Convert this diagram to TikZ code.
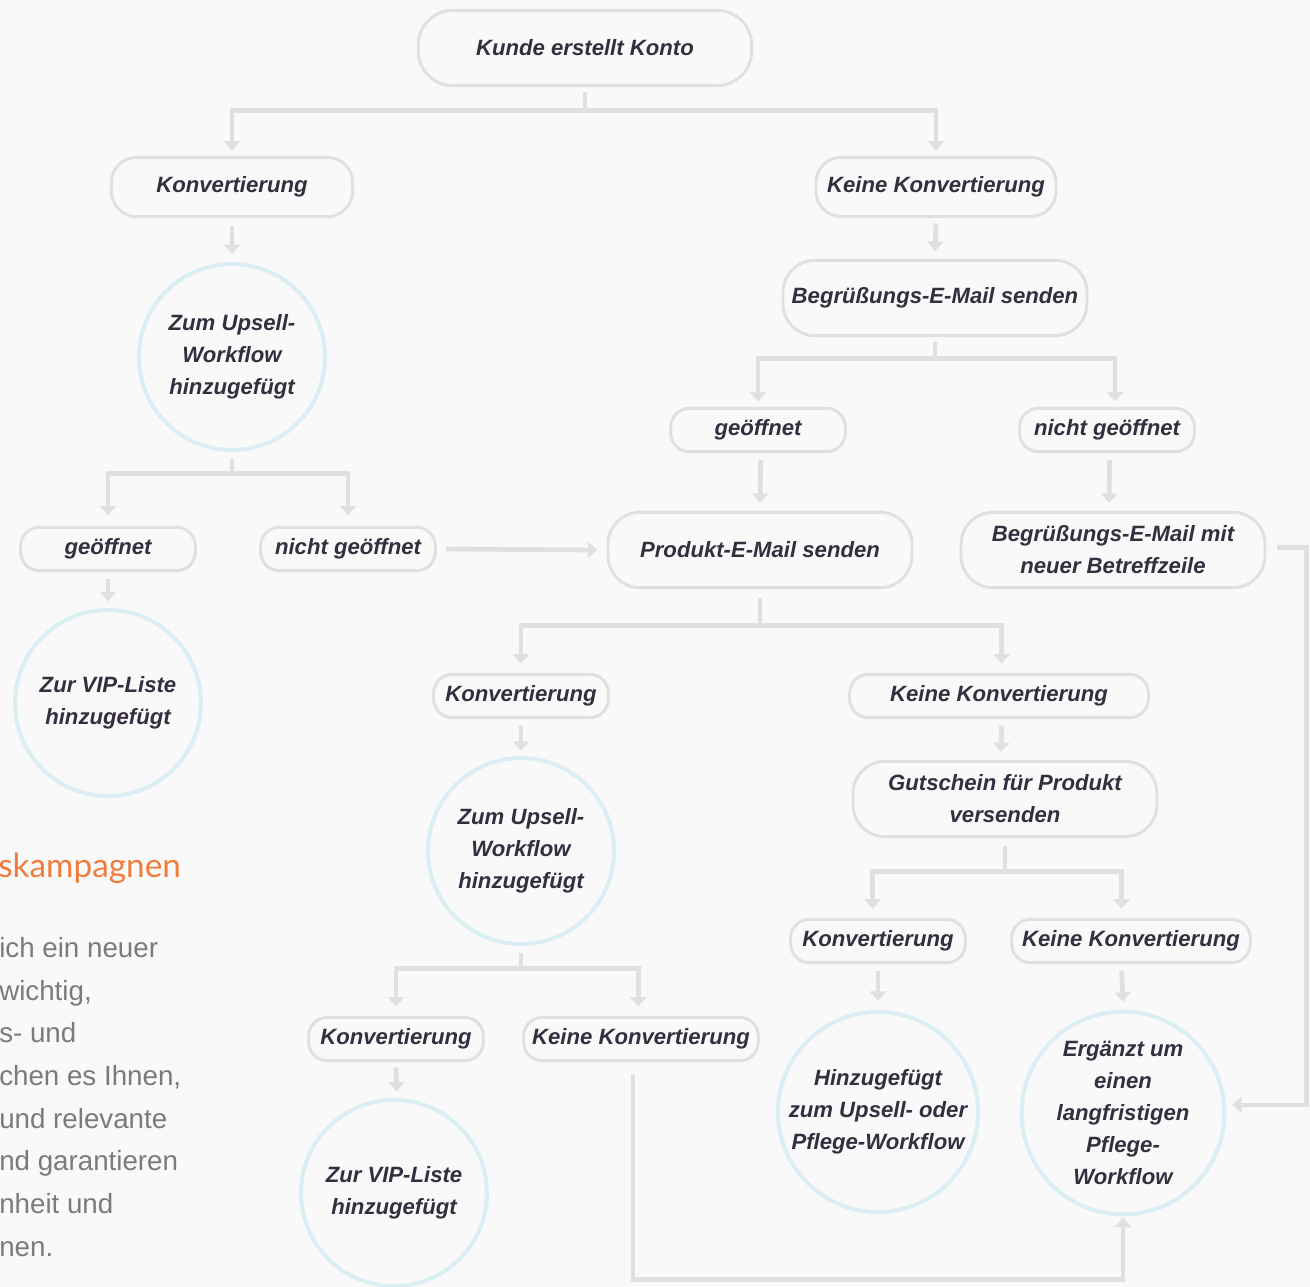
\documentclass[tikz,border=0pt]{standalone}
\usepackage{fontspec}
\setmainfont{Liberation Sans}
\newfontfamily\boxfont{Liberation Sans}
\newfontfamily\headfont{Lato}
\usetikzlibrary{arrows.meta}
\definecolor{bgcol}{HTML}{F9F9F9}
\definecolor{linecol}{HTML}{E0E0E0}
\definecolor{ringcol}{HTML}{DAEEF4}
\definecolor{textcol}{HTML}{352E3F}
\definecolor{bodycol}{HTML}{7A7A80}
\definecolor{headcol}{HTML}{F07C3C}
\tikzset{
  stepbox/.style={draw=linecol, line width=2.2pt, fill=bgcol, rounded corners=14pt,
    minimum height=32.5pt, inner sep=0pt, align=center, text=textcol,
    font=\boxfont\bfseries\itshape\fontsize{16.6}{24}\selectfont},
  midbox/.style={stepbox, minimum height=44.5pt, rounded corners=19pt},
  tallbox/.style={stepbox, minimum height=56.5pt, rounded corners=24pt},
  ring/.style={circle, draw=ringcol, line width=3pt, fill=bgcol, minimum size=139.5pt,
    inner sep=0pt, align=center, text=textcol,
    font=\boxfont\bfseries\itshape\fontsize{16.6}{24}\selectfont},
  bigring/.style={ring, minimum size=150pt},
  conn/.style={draw=linecol, line width=3.6pt, -{Triangle[width=12pt,length=7pt]}},
}
\begin{document}
\begin{tikzpicture}[x=0.75pt, y=-0.75pt]
  \fill[bgcol] (0,0) rectangle (1310,1287);
  \useasboundingbox (0,0) rectangle (1310,1287);
  % text on the left, cut by the page edge
  \node[anchor=base west, inner sep=0pt, text=headcol, font=\headfont\fontsize{25}{30}\selectfont] (head) at (-2,877) {skampagnen};
  \foreach \yy/\txt in {957/ich ein neuer, 1000/{wichtig,}, 1042/s- und, 1085/{chen es Ihnen,},
      1128/und relevante, 1170/nd garantieren, 1213/nheit und, 1256/nen.}
    \node[anchor=base west, inner sep=0pt, text=bodycol, font=\fontsize{20.8}{32}\selectfont] at (-1,\yy) {\txt};
  % nodes
  \node[tallbox, minimum width=250pt, rounded corners=26pt] (kunde) at (585,48) {Kunde erstellt Konto};
  \node[midbox, minimum width=181pt] (konvA) at (232,187) {Konvertierung};
  \node[midbox, minimum width=180pt] (keineA) at (936,187) {Keine Konvertierung};
  \node[ring] (upsellA) at (232,357) {Zum Upsell-\\Workflow\\hinzugefügt};
  \node[tallbox, minimum width=228pt] (begr) at (935,298) {Begrüßungs-E-Mail senden};
  \node[stepbox, minimum width=131pt] (offenB) at (758,430) {geöffnet};
  \node[stepbox, minimum width=131pt] (zuB) at (1107,430) {nicht geöffnet};
  \node[tallbox, minimum width=228pt] (produkt) at (760,550) {Produkt-E-Mail senden};
  \node[tallbox, minimum width=228pt] (begrneu) at (1113,550) {Begrüßungs-E-Mail mit\\neuer Betreffzeile};
  \node[stepbox, minimum width=131pt] (offenA) at (108,549) {geöffnet};
  \node[stepbox, minimum width=131pt] (zuA) at (348,549) {nicht geöffnet};
  \node[ring] (vipA) at (108,703) {Zur VIP-Liste\\hinzugefügt};
  \node[stepbox, minimum width=131pt] (konvC) at (521,696) {Konvertierung};
  \node[stepbox, minimum width=224pt] (keineC) at (999,696) {Keine Konvertierung};
  \node[ring] (upsellC) at (521,851) {Zum Upsell-\\Workflow\\hinzugefügt};
  \node[tallbox, minimum width=228pt] (gutschein) at (1005,799) {Gutschein für Produkt\\versenden};
  \node[stepbox, minimum width=131pt] (konvD) at (396,1039) {Konvertierung};
  \node[stepbox, minimum width=176pt] (keineD) at (641,1039) {Keine Konvertierung};
  \node[ring] (vipD) at (394,1193) {Zur VIP-Liste\\hinzugefügt};
  \node[stepbox, minimum width=131pt] (konvE) at (878,941) {Konvertierung};
  \node[stepbox, minimum width=179pt] (keineE) at (1131,941) {Keine Konvertierung};
  \node[bigring] (pflege) at (878,1112) {Hinzugefügt\\zum Upsell- oder\\Pflege-Workflow};
  \node[bigring, minimum size=152pt] (lang) at (1123,1113) {Ergänzt um\\einen\\langfristigen\\Pflege-\\Workflow};
  % connectors
  \draw[conn] ([yshift=-4pt]kunde.south) -- ++(0,18) -| ([yshift=4pt]konvA.north);
  \draw[conn] ([yshift=-4pt]kunde.south) -- ++(0,18) -| ([yshift=4pt]keineA.north);
  \draw[conn] ([yshift=-6pt]konvA.south) -- ([yshift=6pt]upsellA.north);
  \draw[conn] ([yshift=-4pt]keineA.south) -- ([yshift=6pt]begr.north);
  \draw[conn] ([yshift=-4pt]begr.south) -- ++(0,16) -| ([yshift=4pt]offenB.north);
  \draw[conn] ([yshift=-4pt]begr.south) -- ++(0,16) -| ([xshift=6pt,yshift=4pt]zuB.north);
  \draw[conn] ([xshift=2pt,yshift=-5pt]offenB.south) -- ([yshift=6pt]produkt.north);
  \draw[conn] ([xshift=2pt,yshift=-5pt]zuB.south) -- ([xshift=-3pt,yshift=6pt]begrneu.north);
  \draw[conn] ([yshift=-5pt]upsellA.south) -- ++(0,15) -| ([yshift=8pt]offenA.north);
  \draw[conn] ([yshift=-5pt]upsellA.south) -- ++(0,15) -| ([yshift=8pt]zuA.north);
  \draw[conn] ([yshift=-5pt]offenA.south) -- ([yshift=5pt]vipA.north);
  \draw[conn] ([xshift=7pt]zuA.east) -- ([xshift=-7pt]produkt.west);
  \draw[conn] ([yshift=-7pt]produkt.south) -- ++(0,27) -| ([yshift=7pt]konvC.north);
  \draw[conn] ([yshift=-7pt]produkt.south) -- ++(0,27) -| ([xshift=2pt,yshift=7pt]keineC.north);
  \draw[conn] ([yshift=-5pt]konvC.south) -- ([yshift=4pt]upsellC.north);
  \draw[conn] ([xshift=2pt,yshift=-5pt]keineC.south) -- ([xshift=-3pt,yshift=6pt]gutschein.north);
  \draw[conn] ([yshift=-5pt]upsellC.south) -- ++(0,16) -| ([yshift=7pt]konvD.north);
  \draw[conn] ([yshift=-5pt]upsellC.south) -- ++(0,16) -| ([xshift=-2pt,yshift=7pt]keineD.north);
  \draw[conn] ([yshift=-4pt]konvD.south) -- ([xshift=2pt,yshift=5pt]vipD.north);
  \draw[conn] ([yshift=-6pt]gutschein.south) -- ++(0,25) -| ([xshift=-4pt,yshift=7pt]konvE.north);
  \draw[conn] ([yshift=-6pt]gutschein.south) -- ++(0,25) -| ([xshift=-7pt,yshift=7pt]keineE.north);
  \draw[conn] ([yshift=-5pt]konvE.south) -- ([yshift=7pt]pflege.north);
  \draw[conn] ([xshift=-7pt,yshift=-5pt]keineE.south) -- ([yshift=6pt]lang.north);
  \draw[conn] ([xshift=8pt,yshift=2pt]begrneu.east) -- ++(29,0) |- ([xshift=4.5pt,yshift=6pt]lang.east);
  \draw[conn] ([xshift=-6pt,yshift=-9pt]keineD.south) -- ++(0,205) -| ([yshift=-1pt]lang.south);
\end{tikzpicture}
\end{document}
